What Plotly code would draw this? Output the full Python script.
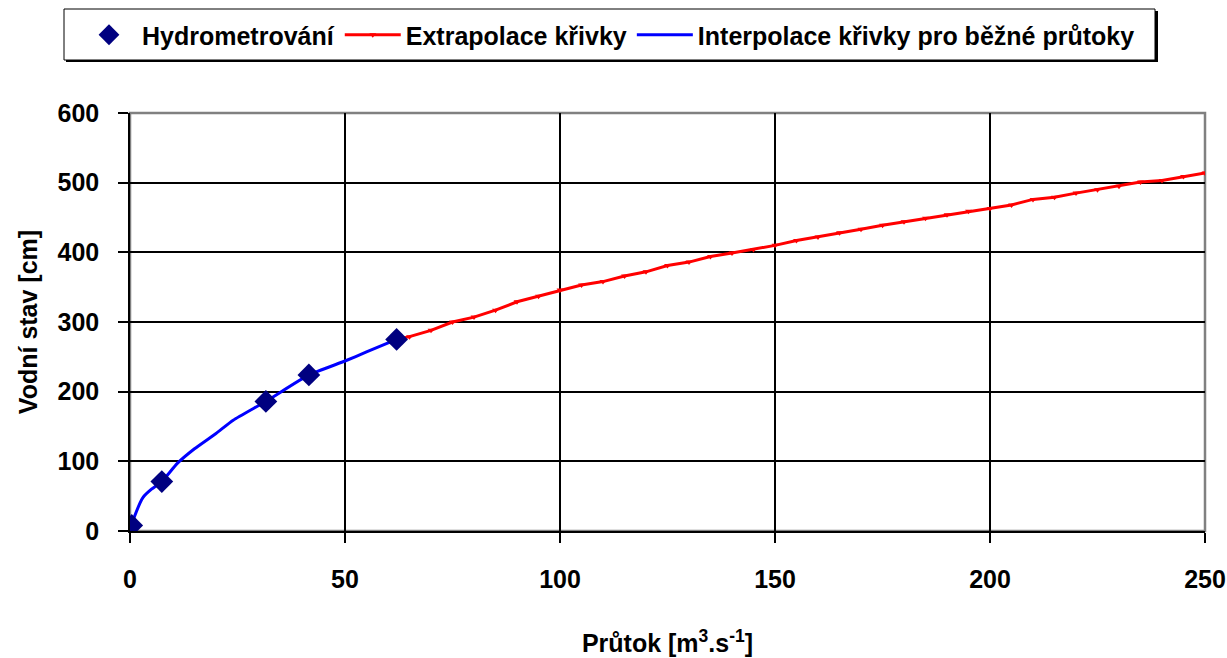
import plotly.graph_objects as go

# Hydrometry measurements
hydro_q = [0.4, 7.4, 31.6, 41.6, 62.0]
hydro_h = [8, 71, 186, 224, 275]

# Interpolated rating curve (normal flows)
interp_q = [0.4, 1.0, 3.0, 5.0, 7.4, 11.0, 15.0, 20.0, 24.0, 31.6, 41.6, 50.0, 55.0, 62.0]
interp_h = [8, 20, 48, 60, 71, 97, 118, 140, 159, 186, 224, 244, 257, 275]

# Extrapolated rating curve
extra_q = [62, 65, 70, 75, 80, 85, 90, 95, 100, 105, 110, 115, 120, 125, 130, 135, 140, 145,
           150, 155, 160, 165, 170, 175, 180, 185, 190, 195, 200, 205, 210, 215, 220, 225,
           230, 235, 240, 245, 250]
extra_h = [275, 279, 288, 300, 307, 317, 329, 337, 346, 353, 358, 366, 372, 381, 386, 394, 399, 404,
           410, 417, 422, 428, 433, 439, 444, 449, 454, 459, 463, 468, 476, 479, 485, 490,
           495, 501, 503, 509, 514]

x_ticks = [0, 50, 100, 150, 200, 250]
y_ticks = [0, 100, 200, 300, 400, 500, 600]

FONT = "Liberation Sans"
FS = 25

fig = go.Figure()

fig.add_trace(go.Scatter(
    x=extra_q, y=extra_h, mode="lines+markers", name="Extrapolace křivky",
    line=dict(color="#ff0000", width=3),
    marker=dict(symbol="triangle-down", size=6, color="#ff0000"),
    legendrank=2,
))
fig.add_trace(go.Scatter(
    x=interp_q, y=interp_h, mode="lines", name="Interpolace křivky pro běžné průtoky",
    line=dict(color="#0000ff", width=3, shape="spline", smoothing=0.5),
    legendrank=3,
))
fig.add_trace(go.Scatter(
    x=hydro_q, y=hydro_h, mode="markers", name="Hydrometrování",
    marker=dict(symbol="diamond", size=17.5, color="#000080"),
    legendrank=1,
))

# paper-coordinate helpers (plot area: x 130..1205 px, y 113..531 px)
def px_x(p):
    return (p - 130) / 1075.0

def px_y(p):
    return (531 - p) / 418.0

fig.update_layout(
    width=1227, height=658,
    margin=dict(l=130, r=22, t=113, b=127, autoexpand=False),
    paper_bgcolor="white", plot_bgcolor="white",
    font=dict(family=FONT, size=FS, color="black", weight="bold"),
    showlegend=True,
    legend=dict(
        orientation="h", x=px_x(608), xanchor="center", y=px_y(35), yanchor="middle",
        borderwidth=0, bgcolor="rgba(0,0,0,0)",
        font=dict(family=FONT, size=FS, color="black", weight="bold"),
        itemwidth=56,
    ),
    xaxis=dict(
        range=[0, 250], tickvals=x_ticks, ticktext=[str(v) for v in x_ticks],
        showgrid=True, gridcolor="black", gridwidth=1.5,
        showline=True, linecolor="black", linewidth=1.5,
        ticks="outside", ticklen=10, tickwidth=1.5, tickcolor="black",
        ticklabelstandoff=15, automargin=False, ticklabeloverflow="allow",
        zeroline=False,
        title=dict(text="Průtok [m<sup>3</sup>.s<sup>-1</sup>]", standoff=43,
                   font=dict(family=FONT, size=FS, weight="bold")),
    ),
    yaxis=dict(
        range=[0, 600], tickvals=y_ticks, ticktext=[str(v) for v in y_ticks],
        showgrid=True, gridcolor="black", gridwidth=1.5,
        showline=True, linecolor="black", linewidth=1.5,
        ticks="outside", ticklen=10, tickwidth=1.5, tickcolor="black",
        ticklabelstandoff=14, automargin=False,
        zeroline=False,
        title=dict(text="Vodní stav [cm]", standoff=13,
                   font=dict(family=FONT, size=FS, weight="bold")),
    ),
    shapes=[
        # plot area border (gray top/right)
        dict(type="rect", xref="paper", yref="paper", x0=0, x1=1, y0=0, y1=1,
             line=dict(color="#808080", width=2.5), layer="below"),
        # legend box shadow
        dict(type="rect", xref="paper", yref="paper",
             x0=px_x(66), x1=px_x(1158), y0=px_y(62), y1=px_y(11),
             line=dict(width=0), fillcolor="#000000", layer="above"),
        # legend box
        dict(type="rect", xref="paper", yref="paper",
             x0=px_x(64), x1=px_x(1155), y0=px_y(60), y1=px_y(9),
             line=dict(color="black", width=1), fillcolor="white", layer="above"),
    ],
)

fig.write_html(
    "out.html",
    config={"displayModeBar": False},
    post_script="document.body.style.margin='0';document.body.style.overflow='hidden';",
)
